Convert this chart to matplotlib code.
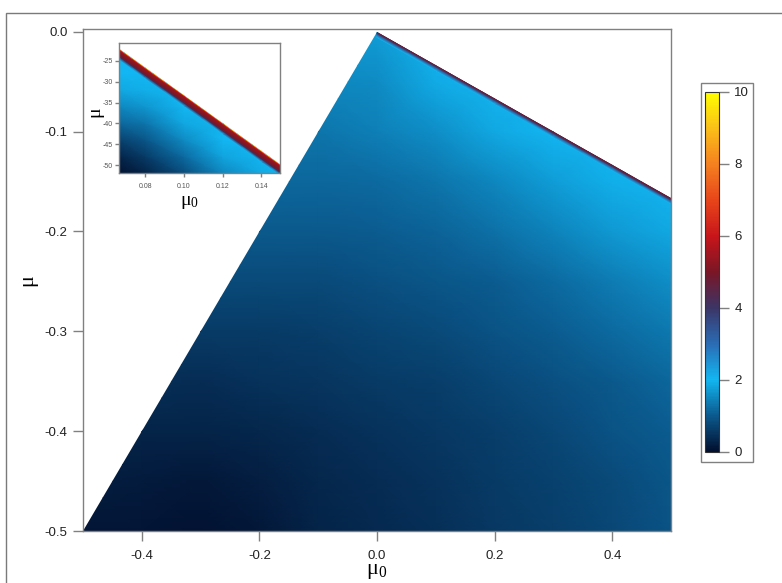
import numpy as np
import matplotlib
matplotlib.use('Agg')
import matplotlib.pyplot as plt
from matplotlib.colors import LinearSegmentedColormap, Normalize
from matplotlib.patches import Polygon, Rectangle
from matplotlib.ticker import FixedLocator, FixedFormatter

plt.rcParams['font.family'] = ['Liberation Sans', 'DejaVu Sans']
plt.rcParams['mathtext.fontset'] = 'custom'
plt.rcParams['mathtext.rm'] = 'Liberation Serif'
plt.rcParams['mathtext.it'] = 'Liberation Serif'

# ---------------- colour scale ----------------
cbar_levels = [0, 1, 2, 3, 4, 5, 6, 7, 8, 9, 10]
cbar_colors = ['#020f2e', '#0b5a8e', '#12b6f2', '#2a6cb4', '#3b3566', '#7a1626',
               '#c8151a', '#e8451a', '#f58020', '#fbbf18', '#ffff00']
cbar_ticks = [0, 2, 4, 6, 8, 10]
cbar_ticklabels = ['0', '2', '4', '6', '8', '10']

# ---------------- main map ----------------
mu0_grid = [-0.5, -0.4, -0.3, -0.2, -0.1, 0.0, 0.1, 0.2, 0.3, 0.4, 0.5]
mu_grid = [-0.5, -0.45, -0.4, -0.35, -0.3, -0.25, -0.2, -0.15, -0.1, -0.05, 0.0]
Z_main = [
    [0.10, 0.08, 0.05, 0.12, 0.28, 0.38, 0.45, 0.55, 0.65, 0.78, 0.90],
    [0.20, 0.18, 0.15, 0.20, 0.33, 0.42, 0.50, 0.60, 0.70, 0.82, 0.95],
    [0.35, 0.30, 0.28, 0.32, 0.42, 0.50, 0.57, 0.66, 0.77, 0.90, 1.05],
    [0.50, 0.45, 0.42, 0.47, 0.52, 0.60, 0.66, 0.75, 0.86, 1.00, 1.15],
    [0.65, 0.62, 0.60, 0.62, 0.65, 0.72, 0.80, 0.90, 1.02, 1.18, 1.35],
    [0.82, 0.80, 0.80, 0.80, 0.82, 0.88, 0.95, 1.05, 1.20, 1.40, 1.60],
    [1.00, 1.00, 1.00, 1.00, 1.00, 1.03, 1.10, 1.25, 1.45, 1.70, 1.85],
    [1.15, 1.15, 1.15, 1.15, 1.15, 1.20, 1.30, 1.50, 1.75, 1.95, 2.00],
    [1.30, 1.30, 1.30, 1.30, 1.30, 1.42, 1.60, 1.85, 2.00, 2.00, 2.00],
    [1.50, 1.50, 1.50, 1.50, 1.50, 1.55, 1.90, 2.00, 2.00, 2.00, 2.00],
    [1.70, 1.70, 1.70, 1.70, 1.70, 1.75, 2.00, 2.00, 2.00, 2.00, 2.00],
]
region_mu0 = [-0.5, 0.0, 0.5, 0.5]
region_mu = [-0.5, 0.0, -0.1667, -0.5]
edge_mu0 = [0.0, 0.1, 0.2, 0.3, 0.4, 0.5]
edge_mu = [0.0, -0.0333, -0.0667, -0.1, -0.1333, -0.1667]
edge_depth = [0.0, 0.0015, 0.003, 0.0055]
edge_vals = [5.0, 4.6, 3.5, 2.0]
x_ticks = [-0.4, -0.2, 0.0, 0.2, 0.4]
x_ticklabels = ['-0.4', '-0.2', '0.0', '0.2', '0.4']
y_ticks = [-0.5, -0.4, -0.3, -0.2, -0.1, 0.0]
y_ticklabels = ['-0.5', '-0.4', '-0.3', '-0.2', '-0.1', '0.0']

# ---------------- inset map (mu in units of 1e-3) ----------------
in_mu0_grid = [0.066, 0.08, 0.10, 0.12, 0.14, 0.15]
in_mu_grid = [-52, -48, -44, -40, -36, -32, -28, -24, -20]
Z_inset = [
    [0.05, 0.30, 0.85, 1.50, 1.90, 2.00],
    [0.30, 0.60, 1.20, 1.80, 2.00, 2.00],
    [0.70, 0.95, 1.55, 2.00, 2.00, 2.00],
    [1.15, 1.30, 1.85, 2.00, 2.00, 2.00],
    [1.50, 1.65, 2.00, 2.00, 2.00, 2.00],
    [1.85, 1.95, 2.00, 2.00, 2.00, 2.00],
    [2.00, 2.00, 2.00, 2.00, 2.00, 2.00],
    [2.00, 2.00, 2.00, 2.00, 2.00, 2.00],
    [2.00, 2.00, 2.00, 2.00, 2.00, 2.00],
]
in_region_mu0 = [0.066, 0.15, 0.15, 0.066]
in_region_mu = [-22.0, -50.0, -52.0, -52.0]
in_edge_mu0 = [0.066, 0.08, 0.10, 0.12, 0.14, 0.15]
in_edge_mu = [-22.0, -26.7, -33.3, -40.0, -46.7, -50.0]
in_edge_depth = [0.0, 0.3, 0.6, 1.5, 2.0, 2.5]
in_edge_vals = [9.0, 6.0, 5.3, 5.0, 4.0, 2.0]
in_x_ticks = [0.08, 0.10, 0.12, 0.14]
in_x_ticklabels = ['0.08', '0.10', '0.12', '0.14']
in_y_ticks = [-50, -45, -40, -35, -30, -25]
in_y_ticklabels = ['-50', '-45', '-40', '-35', '-30', '-25']

# ---------------- drawing ----------------
W, H = 782, 583
fig = plt.figure(figsize=(W / 100, H / 100), dpi=100)

cmap = LinearSegmentedColormap.from_list(
    'custom', [(v / 10.0, c) for v, c in zip(cbar_levels, cbar_colors)])
norm = Normalize(vmin=0, vmax=10)

def fig_rect(l, t, r, b):
    return [l / W, 1 - b / H, (r - l) / W, (b - t) / H]

# outer frame
fig.patches.append(Rectangle((6 / W, -0.05), 1.2, 1 - 13 / H + 0.05, transform=fig.transFigure,
                             fill=False, edgecolor='#7a7a7a', linewidth=1.0, zorder=-2))

grey = '#808080'
serif = ['Liberation Serif', 'DejaVu Serif']

def style_axes(ax, labelsize, length, pad_x, pad_y, lcolor):
    for s in ax.spines.values():
        s.set_color(grey)
        s.set_linewidth(1.0)
    ax.tick_params(axis='both', direction='out', color=grey, labelcolor=lcolor,
                   length=length, width=1.0, labelsize=labelsize)
    ax.tick_params(axis='x', pad=pad_x)
    ax.tick_params(axis='y', pad=pad_y)

def draw_map(ax, xg, yg, Z, rx, ry, ex, ey, ed, ev):
    X, Y = np.meshgrid(xg, yg)
    m = ax.pcolormesh(X, Y, np.array(Z), cmap=cmap, norm=norm, shading='gouraud')
    clip = Polygon(np.column_stack([rx, ry]), closed=True, transform=ax.transData)
    m.set_clip_path(clip)
    ex = np.array(ex)
    ey = np.array(ey)
    ed = np.array(ed)
    EX = np.tile(ex, (len(ed), 1))
    EY = ey[None, :] - ed[:, None]
    EZ = np.tile(np.array(ev)[:, None], (1, len(ex)))
    m2 = ax.pcolormesh(EX, EY, EZ, cmap=cmap, norm=norm, shading='gouraud')
    clip2 = Polygon(np.column_stack([rx, ry]), closed=True, transform=ax.transData)
    m2.set_clip_path(clip2)

# main axes
ax = fig.add_axes(fig_rect(83, 29, 671, 531))
draw_map(ax, mu0_grid, mu_grid, Z_main, region_mu0, region_mu,
         edge_mu0, edge_mu, edge_depth, edge_vals)
ax.set_xlim(-0.5, 0.5)
ax.set_ylim(-0.5, 0.0027)
ax.xaxis.set_major_locator(FixedLocator(x_ticks))
ax.xaxis.set_major_formatter(FixedFormatter(x_ticklabels))
ax.yaxis.set_major_locator(FixedLocator(y_ticks))
ax.yaxis.set_major_formatter(FixedFormatter(y_ticklabels))
style_axes(ax, 9.5, 7.5, 6, 3.5, '#222222')
ax.set_xlabel('μ$_\\mathrm{0}$', fontsize=16, family=serif)
ax.set_ylabel('μ', fontsize=16, family=serif)
ax.xaxis.set_label_coords(0.5, (531 - 562) / 502)
ax.yaxis.set_label_coords((37 - 83) / 588, 0.5)

# inset axes
axi = fig.add_axes(fig_rect(119, 43, 280, 173))
draw_map(axi, in_mu0_grid, in_mu_grid, Z_inset, in_region_mu0, in_region_mu,
         in_edge_mu0, in_edge_mu, in_edge_depth, in_edge_vals)
axi.set_xlim(0.0664, 0.1496)
axi.set_ylim(-51.9, -20.7)
axi.xaxis.set_major_locator(FixedLocator(in_x_ticks))
axi.xaxis.set_major_formatter(FixedFormatter(in_x_ticklabels))
axi.yaxis.set_major_locator(FixedLocator(in_y_ticks))
axi.yaxis.set_major_formatter(FixedFormatter(in_y_ticklabels))
style_axes(axi, 5, 3, 4, 1.5, '#555555')
axi.set_xlabel('μ$_\\mathrm{0}$', fontsize=14, family=serif)
axi.set_ylabel('μ', fontsize=14, family=serif)
axi.xaxis.set_label_coords(0.44, -0.16)
axi.yaxis.set_label_coords(-0.1, 0.47)

# colour bar box and bar
fig.patches.append(Rectangle((701 / W, 1 - 462 / H), 52 / W, 379 / H, transform=fig.transFigure,
                             fill=False, edgecolor=grey, linewidth=1.0, zorder=-1))
cax = fig.add_axes(fig_rect(705, 92, 719, 452))
sm = matplotlib.cm.ScalarMappable(norm=norm, cmap=cmap)
cb = fig.colorbar(sm, cax=cax, ticks=cbar_ticks)
cb.set_ticklabels(cbar_ticklabels)
cb.outline.set_edgecolor('#333333')
cb.outline.set_linewidth(0.8)
cax.tick_params(direction='out', length=7, width=1.0, color=grey, labelsize=9.5,
                labelcolor='#222222', pad=4)

fig.savefig('out.png', dpi=100)
